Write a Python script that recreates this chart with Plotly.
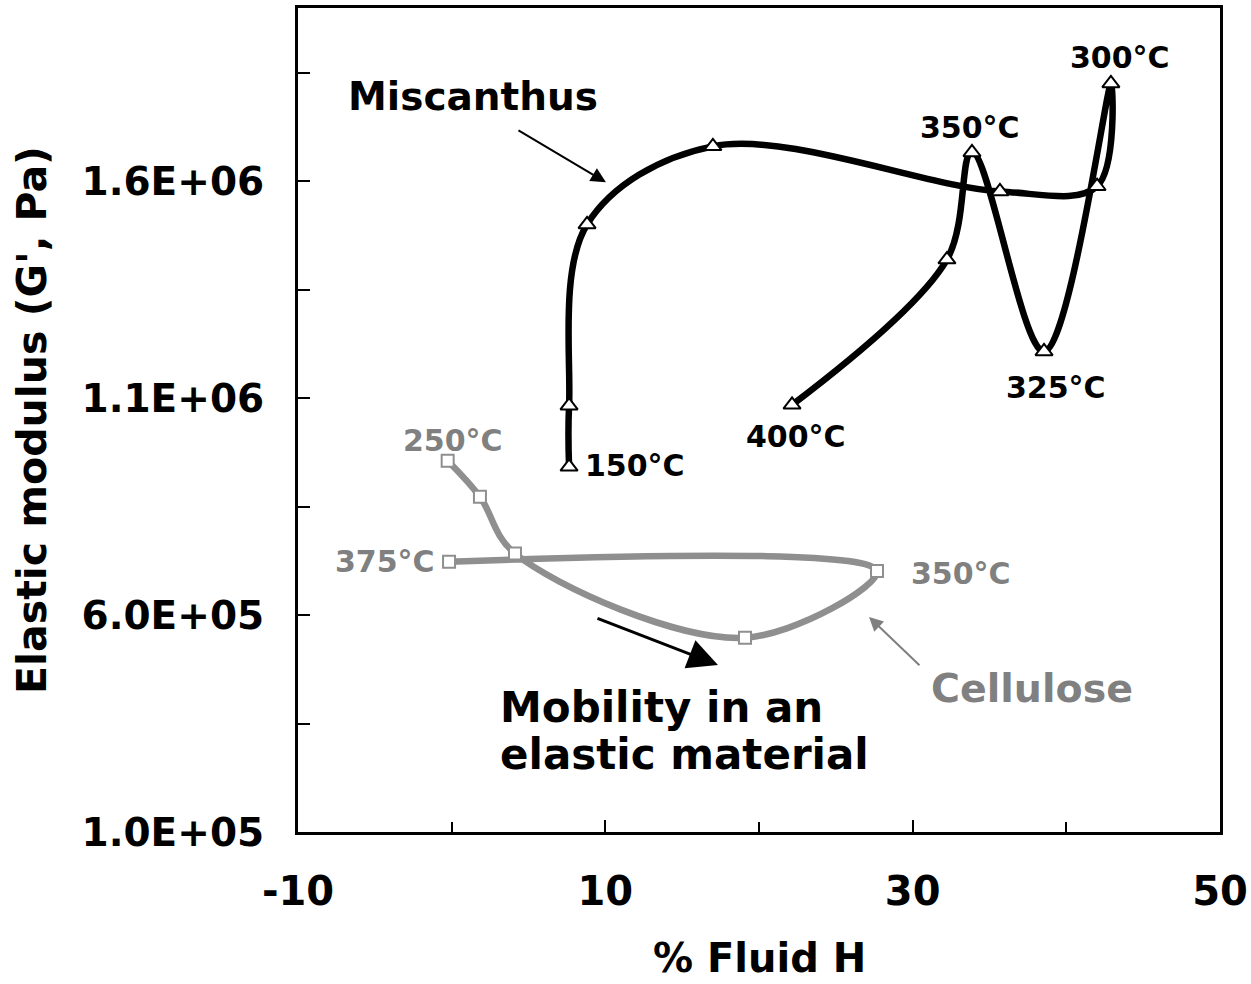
import plotly.graph_objects as go

# ---------------- data ----------------
misc_temp = [150, 175, 200, 225, 250, 275, 300, 325, 350, 375, 400]
misc_fluid_h = [7.64, 7.64, 8.81, 17.0, 35.68, 42.0, 42.9, 38.55, 33.86, 32.23, 22.15]
misc_modulus = [9.42e5, 1.083e6, 1.501e6, 1.681e6, 1.577e6, 1.589e6, 1.826e6, 1.208e6, 1.667e6, 1.42e6, 1.085e6]

cell_temp = [250, 275, 300, 325, 350, 375]
cell_fluid_h = [-0.26, 1.84, 4.12, 19.09, 27.68, -0.17]
cell_modulus = [9.56e5, 8.73e5, 7.42e5, 5.48e5, 7.02e5, 7.23e5]

y_tickvals = [1.0e5, 6.0e5, 1.1e6, 1.6e6]
y_ticktext = ["1.0E+05", "6.0E+05", "1.1E+06", "1.6E+06"]
x_tickvals = [-10, 10, 30, 50]
x_ticktext = ["-10", "10", "30", "50"]

FONT = "DejaVu Sans"
GRAY_LINE = "#8f8f8f"
GRAY_TEXT = "#808080"

fig = go.Figure()

fig.add_trace(go.Scatter(
    x=cell_fluid_h, y=cell_modulus, mode="lines+markers",
    line=dict(color=GRAY_LINE, width=6.5, shape="spline", smoothing=1),
    marker=dict(symbol="square", size=12, color="white",
                line=dict(color=GRAY_LINE, width=2)),
    name="Cellulose", showlegend=False, customdata=cell_temp,
))

fig.add_trace(go.Scatter(
    x=misc_fluid_h, y=misc_modulus, mode="lines+markers",
    line=dict(color="black", width=6.5, shape="spline", smoothing=1),
    marker=dict(symbol="triangle-up", size=15, color="white",
                line=dict(color="black", width=2)),
    name="Miscanthus", showlegend=False, customdata=misc_temp,
))

ann = []
def label(text, x, y, size=30, color="black", xanchor="center"):
    ann.append(dict(text=text, x=x, y=y, xref="x", yref="y", showarrow=False,
                    xanchor=xanchor, yanchor="middle",
                    font=dict(family=FONT, size=size, color=color, weight="bold")))

# Miscanthus temperature labels
label("300°C", 43.49, 1.886e6)
label("350°C", 33.73, 1.725e6)
label("325°C", 39.33, 1.125e6)
label("400°C", 22.41, 1.0115e6)
label("150°C", 8.55, 9.446e5, xanchor="left")
# Cellulose temperature labels
label("250°C", 0.09, 1.002e6, color=GRAY_TEXT)
label("375°C", -0.955, 7.23e5, color=GRAY_TEXT, xanchor="right")
label("350°C", 29.76, 6.95e5, color=GRAY_TEXT, xanchor="left")
# big labels
label("Miscanthus", 1.39, 1.796e6, size=39)
label("Cellulose", 37.76, 4.32e5, size=39.5, color=GRAY_TEXT)
label("Mobility in an", 3.01, 3.86e5, size=42, xanchor="left")
label("elastic material", 3.01, 2.78e5, size=42, xanchor="left")

def arrow(x0, y0, x1, y1, color, width, size):
    ann.append(dict(text="", x=x1, y=y1, ax=x0, ay=y0, xref="x", yref="y",
                    axref="x", ayref="y", showarrow=True, arrowhead=2,
                    arrowsize=size, arrowwidth=width, arrowcolor=color, standoff=0))

arrow(4.25, 1.72e6, 10.04, 1.598e6, "black", 2, 1.5)
arrow(9.39, 5.94e5, 17.33, 4.85e5, "black", 3, 2.0)
arrow(30.54, 4.81e5, 27.16, 5.96e5, "#7f7f7f", 2, 1.4)

# axis titles
ann.append(dict(text="% Fluid H", x=0.5, y=-0.153, xref="paper", yref="paper",
                showarrow=False, xanchor="center", yanchor="middle",
                font=dict(family=FONT, size=40, color="black", weight="bold")))
ann.append(dict(text="Elastic modulus (G', Pa)", x=-0.2885, y=0.5, xref="paper", yref="paper",
                showarrow=False, xanchor="center", yanchor="middle", textangle=-90,
                font=dict(family=FONT, size=41, color="black", weight="bold")))

fig.update_layout(
    width=1251, height=984,
    margin=dict(l=298, r=31, t=8, b=152),
    paper_bgcolor="white", plot_bgcolor="white",
    annotations=ann,
    font=dict(family=FONT, color="black"),
)

fig.update_xaxes(
    range=[-10, 50], tickvals=x_tickvals, ticktext=x_ticktext,
    ticks="inside", ticklen=12, tickwidth=2, tickcolor="black",
    minor=dict(dtick=10, tick0=-10, ticks="inside", ticklen=10, tickwidth=2, tickcolor="black"),
    showline=True, linecolor="black", linewidth=3, mirror=True,
    showgrid=False, zeroline=False, automargin=False,
    tickfont=dict(family=FONT, size=40, color="black", weight="bold"),
    ticklabelstandoff=22,
)
fig.update_yaxes(
    range=[1.0e5, 2.0e6], tickvals=y_tickvals, ticktext=y_ticktext,
    ticks="inside", ticklen=12, tickwidth=2, tickcolor="black",
    minor=dict(dtick=2.5e5, tick0=1.0e5, ticks="inside", ticklen=12, tickwidth=2, tickcolor="black"),
    showline=True, linecolor="black", linewidth=3, mirror=True,
    showgrid=False, zeroline=False, automargin=False,
    tickfont=dict(family=FONT, size=39, color="black", weight="bold"),
    ticklabelstandoff=23,
)

fig.write_html("out.html")
